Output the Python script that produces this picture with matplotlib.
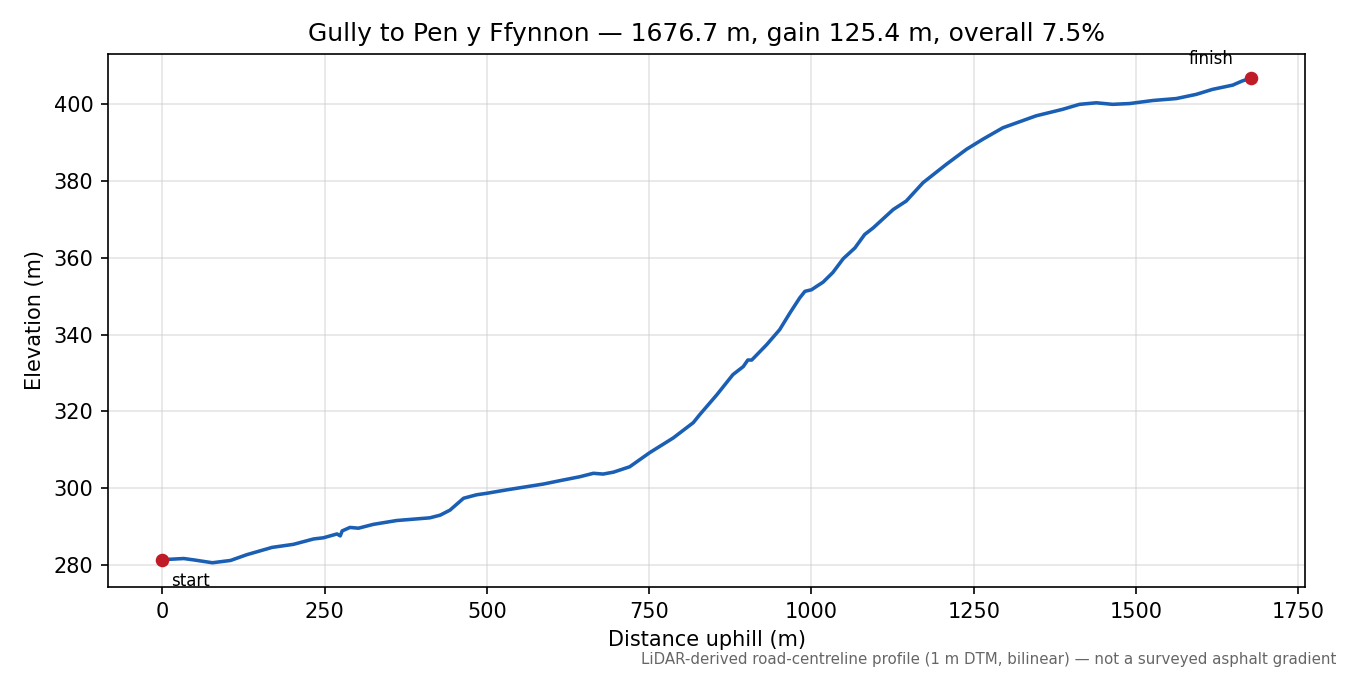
import numpy as np
import matplotlib
matplotlib.use('Agg')
import matplotlib.pyplot as plt

# profile
dist_m = [0, 33, 50, 77, 105, 130, 169, 202, 233, 248, 269, 274, 277, 289, 302,
          325, 361, 412, 428, 443, 464, 484, 500, 531, 587, 613, 643, 664, 679,
          695, 720, 751, 787, 818, 828, 854, 879, 895, 902, 908, 931, 951, 967,
          982, 990, 1000, 1018, 1033, 1049, 1067, 1082, 1095, 1126, 1146, 1172,
          1208, 1239, 1264, 1295, 1346, 1387, 1413, 1439, 1464, 1490, 1526,
          1562, 1593, 1618, 1649, 1664, 1676.7]
elev_m = [281.4, 281.7, 281.3, 280.6, 281.2, 282.7, 284.6, 285.4, 286.8, 287.1,
          288.1, 287.6, 288.9, 289.8, 289.6, 290.6, 291.6, 292.3, 293.0, 294.3,
          297.4, 298.3, 298.7, 299.6, 301.1, 302.0, 303.0, 303.9, 303.7, 304.2,
          305.6, 309.3, 313.1, 317.1, 319.2, 324.3, 329.6, 331.7, 333.4, 333.4,
          337.4, 341.3, 345.7, 349.6, 351.3, 351.7, 353.7, 356.2, 359.8, 362.6,
          366.1, 367.8, 372.6, 374.8, 379.6, 384.4, 388.3, 390.9, 393.9, 397.0,
          398.7, 400.0, 400.4, 400.0, 400.2, 401.0, 401.5, 402.6, 403.9, 405.0,
          406.1, 406.8]

total_len = 1676.7
gain = 125.4
title = 'Gully to Pen y Ffynnon — %.1f m, gain %.1f m, overall %.1f%%' % (
    total_len, gain, 100 * gain / total_len)
note = 'LiDAR-derived road-centreline profile (1 m DTM, bilinear) — not a surveyed asphalt gradient'

fig, ax = plt.subplots(figsize=(9, 4.5), dpi=150)
fig.subplots_adjust(left=0.08, right=0.9667, top=0.92, bottom=0.1304)

ax.plot(dist_m, elev_m, color='#1a5fb4', lw=1.7)
ax.plot([dist_m[0], dist_m[-1]], [elev_m[0], elev_m[-1]], 'o', color='#c01c28', ms=5.5)
ax.annotate('start', (dist_m[0], elev_m[0]), xytext=(4, -6), textcoords='offset points',
            ha='left', va='top', fontsize=8)
ax.annotate('finish', (dist_m[-1], elev_m[-1]), xytext=(-8, 5), textcoords='offset points',
            ha='right', va='bottom', fontsize=8)

ax.set_title(title, fontsize=12)
ax.set_xlabel('Distance uphill (m)')
ax.set_ylabel('Elevation (m)')
ax.grid(True, color='#cccccc', alpha=0.5, lw=0.8)

fig.text(0.99, 0.012, note, ha='right', va='bottom', fontsize=7.2, color='#666666')

fig.savefig('out.png', dpi=150)
